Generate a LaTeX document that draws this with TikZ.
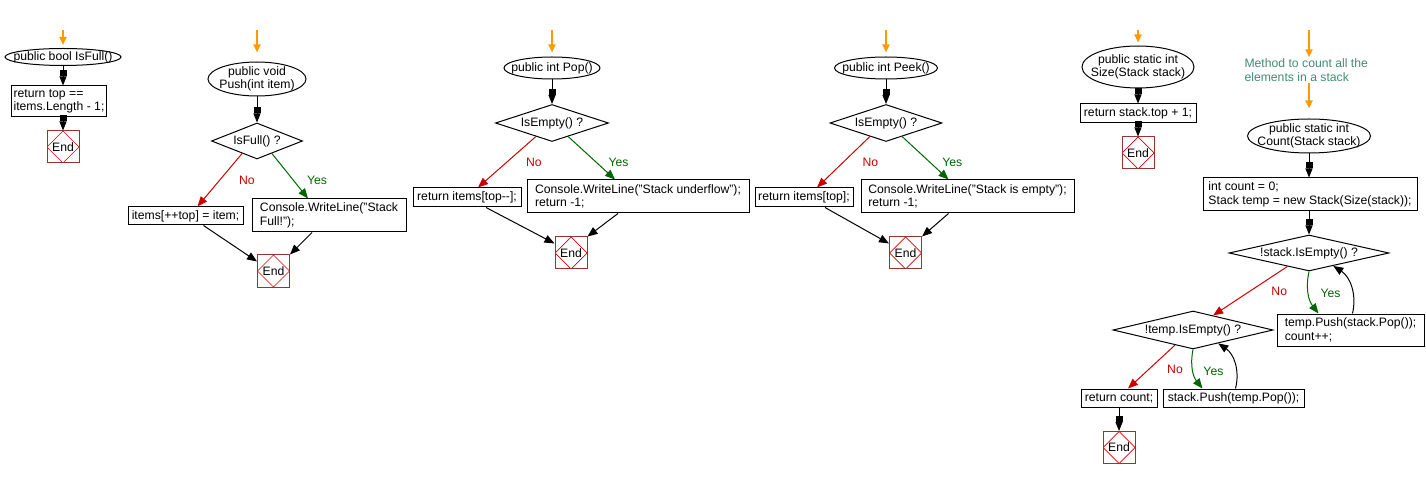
\documentclass[tikz,border=0pt]{standalone}
\usepackage{fontspec}
\setmainfont{Liberation Sans}
\usetikzlibrary{arrows.meta,positioning,shapes.geometric}

\definecolor{startor}{RGB}{255,153,0}
\definecolor{nored}{RGB}{204,0,0}
\definecolor{yesgreen}{RGB}{0,102,0}
\definecolor{endred}{RGB}{153,51,51}
\definecolor{notegreen}{RGB}{64,140,112}

\begin{document}
\begin{tikzpicture}[
  x=1pt, y=-1pt, line width=1pt,
  font=\fontsize{12.2}{13.5}\selectfont,
  sig/.style={draw, ellipse, inner sep=0pt},
  decision/.style={draw, diamond, inner sep=0pt},
  stepbox/.style={draw, rectangle, inner sep=2pt, align=left},
  endbox/.style={draw=endred, minimum width=32pt, minimum height=32pt, inner sep=0pt,
    path picture={\draw[red!85!black, line width=0.7pt]
      (path picture bounding box.north) -- (path picture bounding box.east) --
      (path picture bounding box.south) -- (path picture bounding box.west) -- cycle;}},
  note/.style={text=notegreen, align=left, inner sep=1pt},
  every label/.style={align=center},
  startarr/.style={draw=startor, line width=2.5pt, -{Triangle[length=8pt,width=7pt]}},
  arr/.style={-{Rectangle[length=6pt,width=7pt,sep=0pt]Triangle[length=9pt,width=7pt]}},
  diag/.style={-{Triangle[length=10pt,width=8pt]}},
  noarr/.style={diag, nored},
  yesarr/.style={diag, yesgreen},
  nolbl/.style={text=nored, xshift=27pt},
  yeslbl/.style={text=yesgreen, xshift=27pt, yshift=-4pt}
]
  \useasboundingbox (0,0) rectangle (1426,478);

  % IsFull()
  \coordinate (fullin) at (63,30);
  \node[sig, minimum width=116pt, minimum height=17pt, label=center:{public bool IsFull()}] (fullsig) at (63,57) {};
  \node[stepbox, minimum width=94pt, minimum height=31pt] (fullret) at (59,101.5) {return top ==\\items.Length - 1;};
  \node[endbox] (fullend) at (63,147) {End};

  % Push(int item)
  \coordinate (pushin) at (257,30);
  \node[sig, minimum width=98pt, minimum height=34pt, label=center:{public void\\Push(int item)}] (pushsig) at (257,79) {};
  \node[decision, aspect=2.5, minimum width=91pt, minimum height=36pt] (isfull) at (257,141) {IsFull() ?};
  \node[stepbox, minimum width=115pt, minimum height=18pt] (pushno) at (185.5,216) {items[++top] = item;};
  \node[stepbox, minimum width=154pt, minimum height=33pt] (pushyes) at (329,215.5) {Console.WriteLine("Stack\\Full!");};
  \node[endbox] (pushend) at (273.5,271) {End};

  % Pop()
  \coordinate (popin) at (552,30);
  \node[sig, minimum width=96pt, minimum height=22pt, label=center:{public int Pop()}] (popsig) at (552,68) {};
  \node[decision, aspect=3, minimum width=113pt, minimum height=37pt] (popempty) at (552,123) {IsEmpty() ?};
  \node[stepbox, minimum width=108pt, minimum height=19pt] (popno) at (467,197.5) {return items[top-{}-];};
  \node[stepbox, minimum width=222pt, minimum height=33pt] (popyes) at (638,196.5) {Console.WriteLine("Stack underflow");\\return -1;};
  \node[endbox] (popend) at (571,253) {End};

  % Peek()
  \coordinate (peekin) at (886,30);
  \node[sig, minimum width=103pt, minimum height=22pt, label=center:{public int Peek()}] (peeksig) at (886,68) {};
  \node[decision, aspect=3, minimum width=112pt, minimum height=37pt] (peekempty) at (886,123) {IsEmpty() ?};
  \node[stepbox, minimum width=98pt, minimum height=19pt] (peekno) at (804,197.5) {return items[top];};
  \node[stepbox, minimum width=213pt, minimum height=33pt] (peekyes) at (967.5,196.5) {Console.WriteLine("Stack is empty");\\return -1;};
  \node[endbox] (peekend) at (905.5,253) {End};

  % Size(Stack stack)
  \coordinate (sizein) at (1138,30);
  \node[sig, minimum width=112pt, minimum height=42pt, label=center:{public static int\\Size(Stack stack)}] (sizesig) at (1138,67) {};
  \node[stepbox, minimum width=116pt, minimum height=19pt] (sizeret) at (1138,113.5) {return stack.top + 1;};
  \node[endbox] (sizeend) at (1138,153) {End};

  % Count(Stack stack)
  \coordinate (countin) at (1309,30);
  \node[note, anchor=west] (countnote) at (1243,70) {Method to count all the\\elements in a stack};
  \node[sig, minimum width=123pt, minimum height=34pt, label=center:{public static int\\Count(Stack stack)}] (countsig) at (1309,136) {};
  \node[stepbox, minimum width=214pt, minimum height=33pt] (countinit) at (1310,194.5) {int count = 0;\\Stack temp = new Stack(Size(stack));};
  \node[decision, aspect=4.4, minimum width=160pt, minimum height=36pt] (stackloop) at (1309,253) {!stack.IsEmpty() ?};
  \node[stepbox, minimum width=147pt, minimum height=32pt] (loopbody) at (1350.5,330) {temp.Push(stack.Pop());\\count++;};
  \node[decision, aspect=4.2, minimum width=160pt, minimum height=38pt] (temploop) at (1193,330) {!temp.IsEmpty() ?};
  \node[stepbox, minimum width=76pt, minimum height=18pt] (retcount) at (1119,398) {return count;};
  \node[stepbox, minimum width=141pt, minimum height=18pt] (pushback) at (1233.5,398) {stack.Push(temp.Pop());};
  \node[endbox] (countend) at (1119,447.5) {End};

  % Arrows
  \draw[startarr, shorten >=3pt] (fullin) -- (fullsig);
  \draw[arr] (fullsig) -- (fullsig |- fullret.north);
  \draw[arr] (fullsig |- fullret.south) -- (fullend);

  \draw[startarr, shorten >=9pt] (pushin) -- (pushsig);
  \draw[arr] (pushsig) -- (isfull);
  \draw[noarr] (isfull.-140) -- node[nolbl] {No} ([xshift=12pt]pushno.north);
  \draw[yesarr] (isfull.-40) -- node[yeslbl] {Yes} ([xshift=-21pt]pushyes.north);
  \draw[diag] ([xshift=18pt]pushno.south) -- (pushend.150);
  \draw[diag] ([xshift=-17pt]pushyes.south) -- (pushend.north east);

  \draw[startarr, shorten >=4pt] (popin) -- (popsig);
  \draw[arr] (popsig) -- (popempty);
  \draw[noarr] (popempty.-140) -- node[nolbl] {No} ([xshift=11pt]popno.north);
  \draw[yesarr] (popempty.-40) -- node[yeslbl] {Yes} ([xshift=-23pt]popyes.north);
  \draw[diag] ([xshift=19pt]popno.south) -- (popend.150);
  \draw[diag] ([xshift=-20pt]popyes.south) -- (popend.north east);

  \draw[startarr, shorten >=4pt] (peekin) -- (peeksig);
  \draw[arr] (peeksig) -- (peekempty);
  \draw[noarr] (peekempty.-140) -- node[nolbl] {No} ([xshift=13pt]peekno.north);
  \draw[yesarr] (peekempty.-40) -- node[yeslbl] {Yes} ([xshift=-19pt]peekyes.north);
  \draw[diag] ([xshift=21pt]peekno.south) -- (peekend.150);
  \draw[diag] ([xshift=-19pt]peekyes.south) -- (peekend.north east);

  \draw[startarr, shorten >=3pt] (sizein) -- (sizesig);
  \draw[arr] (sizesig) -- (sizeret);
  \draw[arr] (sizeret) -- (sizeend);

  \draw[startarr] (countin) -- (countin |- countnote.north);
  \draw[startarr, shorten >=10pt] (countin |- countnote.south) -- (countsig);
  \draw[arr] (countsig) -- (countsig |- countinit.north);
  \draw[arr] (countsig |- countinit.south) -- (stackloop);
  \draw[noarr] (stackloop.-148) -- node[nolbl, xshift=2pt] {No} (temploop.36);
  \draw[yesarr] (stackloop.south) to[bend right=25] node[yeslbl, xshift=-5pt, yshift=4pt] {Yes} ([xshift=-32pt]loopbody.north);
  \draw[diag] ([xshift=2pt]loopbody.north) to[bend right=35] (stackloop.-28);
  \draw[noarr] (temploop.-140) -- node[nolbl, xshift=-3.5pt, yshift=-3pt] {No} ([xshift=9pt]retcount.north);
  \draw[yesarr] (temploop.south) to[bend right=25] node[yeslbl, xshift=-6.5pt, yshift=3pt] {Yes} ([xshift=-31pt]pushback.north);
  \draw[diag] ([xshift=2pt]pushback.north) to[bend right=35] (temploop.-28);
  \draw[arr] (retcount) -- (countend);
\end{tikzpicture}
\end{document}
